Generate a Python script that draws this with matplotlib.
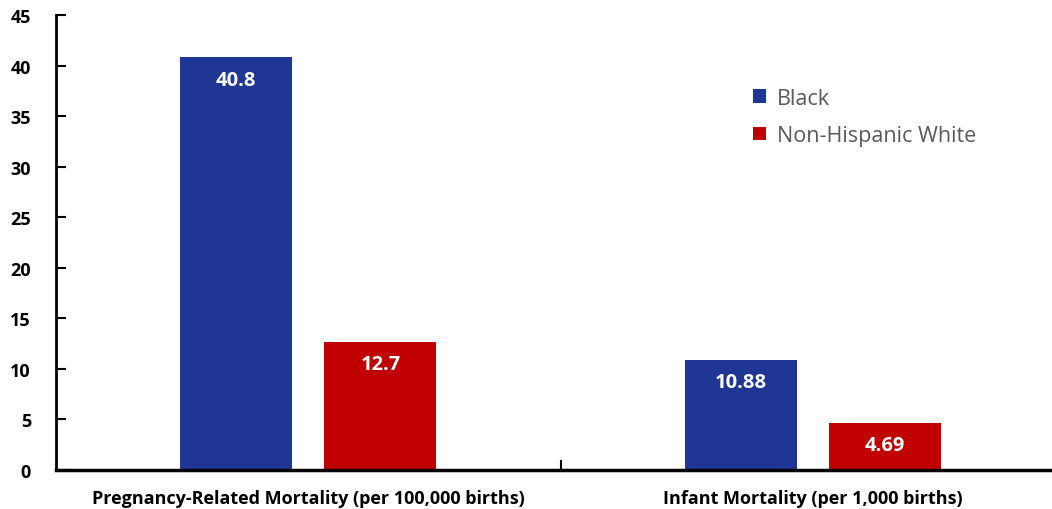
import matplotlib.pyplot as plt
import numpy as np

categories = ["Pregnancy-Related Mortality (per 100,000 births)",
              "Infant Mortality (per 1,000 births)"]
black_values = [40.8, 10.88]
white_values = [12.7, 4.69]
value_labels_black = ["40.8", "10.88"]
value_labels_white = ["12.7", "4.69"]
series_names = ["Black", "Non-Hispanic White"]
yticks = [0, 5, 10, 15, 20, 25, 30, 35, 40, 45]

plt.rcParams["font.family"] = ["Open Sans", "DejaVu Sans"]

fig = plt.figure(figsize=(10.52, 5.10), dpi=100)
# axes spans slightly past the right edge, as in the cropped original
ax = fig.add_axes([56 / 1052, (510 - 471) / 510, 1009 / 1052, 455 / 510])

x = np.arange(len(categories))
w = 0.222
off = 0.143
b1 = ax.bar(x - off, black_values, w, color="#203695", label=series_names[0])
b2 = ax.bar(x + off, white_values, w, color="#C00000", label=series_names[1])

for bars, labels in [(b1, value_labels_black), (b2, value_labels_white)]:
    for rect, lab in zip(bars, labels):
        ax.text(rect.get_x() + rect.get_width() / 2, rect.get_height() - 2.2,
                lab, ha="center", va="center", color="white",
                fontsize=14.5, fontweight="bold")

ax.set_xlim(-0.5, 1.5)
ax.set_ylim(0, 45)
ax.set_yticks(yticks)
ax.set_yticklabels([str(t) for t in yticks], fontsize=13, fontweight="bold")
ax.set_xticks(x)
ax.set_xticklabels(categories, fontsize=13, fontweight="bold")
ax.tick_params(axis="x", length=0, pad=14)
ax.tick_params(axis="y", direction="in", length=7, width=1.5, pad=18)
ax.set_xticks([0.5], minor=True)
ax.tick_params(axis="x", which="minor", direction="in", length=7, width=1.5)

for s in ["top", "right"]:
    ax.spines[s].set_visible(False)
ax.spines["left"].set_linewidth(2)
ax.spines["bottom"].set_linewidth(2.5)

ax.legend(loc="center left", bbox_to_anchor=(0.672, 0.776), frameon=False,
          fontsize=15.5, handlelength=0.6, handleheight=0.6, handletextpad=0.5,
          labelspacing=0.75, labelcolor="#595959")

fig.savefig("out.png", dpi=100)
